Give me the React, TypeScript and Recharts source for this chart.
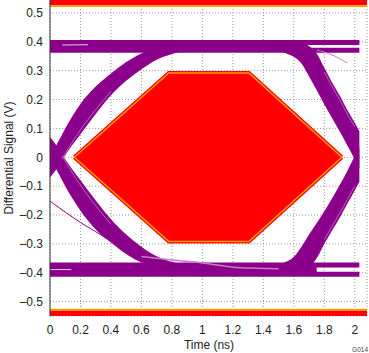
import React from 'react';
import { ComposedChart, Area, Line, XAxis, YAxis, CartesianGrid, ReferenceLine } from 'recharts';

// time grid (ns) for eye traces
const T = [0, 0.05, 0.1, 0.15, 0.2, 0.3, 0.4, 0.5, 0.6, 0.7, 0.8, 0.9, 1.0, 1.1, 1.2, 1.3, 1.4, 1.5, 1.55, 1.6, 1.65, 1.7, 1.75, 1.8, 1.85, 1.9, 1.95, 2.0, 2.03];
// upper eye arc band (V)
const upperOuter = [0.0, 0.05, 0.1, 0.145, 0.185, 0.245, 0.29, 0.33, 0.36, 0.378, 0.39, 0.397, 0.4, 0.401, 0.401, 0.4, 0.4, 0.398, 0.397, 0.396, 0.393, 0.385, 0.36, 0.31, 0.26, 0.215, 0.165, 0.12, 0.09];
const upperInner = [-0.07, -0.035, 0.007, 0.045, 0.08, 0.15, 0.215, 0.265, 0.305, 0.338, 0.358, 0.37, 0.375, 0.377, 0.377, 0.376, 0.374, 0.368, 0.36, 0.348, 0.325, 0.28, 0.232, 0.183, 0.137, 0.09, 0.042, -0.008, -0.04];
// lower eye arc band (V)
const lowerInner = [0.07, 0.035, -0.007, -0.045, -0.08, -0.15, -0.215, -0.268, -0.31, -0.343, -0.363, -0.374, -0.379, -0.381, -0.381, -0.38, -0.378, -0.372, -0.362, -0.345, -0.31, -0.268, -0.228, -0.187, -0.143, -0.097, -0.048, 0.004, 0.036];
const lowerOuter = [0.0, -0.05, -0.1, -0.145, -0.185, -0.25, -0.295, -0.335, -0.365, -0.384, -0.396, -0.403, -0.406, -0.408, -0.408, -0.408, -0.407, -0.405, -0.403, -0.4, -0.395, -0.382, -0.35, -0.3, -0.255, -0.21, -0.162, -0.115, -0.085];

// steady-level rails
const railT = [0, 2.03];
const railFillT = [0, 1.65];
const bottomRailFillT = [0, 1.75];
const topRails = [0.398, 0.371];
const topRailFill = 0.385;
const bottomRails = [-0.373, -0.405];
const bottomRailFill = -0.389;

// stray thin traces
const strayLowT = [0, 0.1, 0.2, 0.3, 0.43, 0.6];
const strayLowV = [-0.152, -0.19, -0.226, -0.258, -0.3, -0.34];
const strayInnerT = [0.6, 0.8, 1.0, 1.25, 1.5];
const strayInnerV = [-0.344, -0.356, -0.366, -0.383, -0.386];
const strayTopT = [1.75, 1.85, 1.95];
const strayTopV = [0.372, 0.355, 0.327];

// light streaks inside the bands
const streakUpLeftT = [0.08, 0.2, 0.3, 0.4];
const streakUpLeftV = [-0.004, 0.095, 0.165, 0.228];
const streakLowLeftT = [0.08, 0.2, 0.3, 0.4];
const streakLowLeftV = [0.004, -0.097, -0.168, -0.232];
const streakUpRightT = [1.8, 1.85, 1.9, 1.95, 2.0];
const streakUpRightV = [0.295, 0.246, 0.2, 0.15, 0.105];
const streakLowRightT = [1.8, 1.85, 1.9, 1.95, 2.0];
const streakLowRightV = [-0.285, -0.24, -0.195, -0.147, -0.1];
const whiteTopT = [0.08, 0.25];
const whiteTopV = [0.389, 0.39];
const whiteBottomT = [0, 0.14];
const whiteBottomV = [-0.389, -0.389];

// eye mask hexagon
const hexT = [0.16, 0.78, 1.305, 1.915];
const hexTop = [0, 0.292, 0.292, 0];
const hexBottom = [0, -0.292, -0.292, 0];

// top / bottom masks
const maskT = [0, 2.08];
const topMask = [0.527, 0.545];
const bottomMask = [-0.55, -0.531];
const topMaskEdge = 0.524;
const bottomMaskEdge = -0.528;

const xTicks = [0, 0.2, 0.4, 0.6, 0.8, 1, 1.2, 1.4, 1.6, 1.8, 2];
const yTicks = [-0.5, -0.4, -0.3, -0.2, -0.1, 0, 0.1, 0.2, 0.3, 0.4, 0.5];

const upperArc = T.map((t, i) => ({ t, r: [upperInner[i], upperOuter[i]] }));
const lowerArc = T.map((t, i) => ({ t, r: [lowerOuter[i], lowerInner[i]] }));
const railData = (v: number, ts: number[]) => ts.map((t) => ({ t, v }));
const lineData = (ts: number[], vs: number[]) => ts.map((t, i) => ({ t, v: vs[i] }));
const hexData = hexT.map((t, i) => ({ t, r: [hexBottom[i], hexTop[i]] }));
const topMaskData = maskT.map((t) => ({ t, r: topMask }));
const bottomMaskData = maskT.map((t) => ({ t, r: bottomMask }));

const PURPLE = '#8b008b';
const LIGHT = '#c77cc7';
const FONT = '"Liberation Sans", Arial, sans-serif';

const fmtY = (v: number) => (v === 0 ? '0' : v < 0 ? '\u2013' + Math.abs(v).toFixed(1) : v.toFixed(1));
const fmtX = (v: number) => String(Number(v.toFixed(1)));

const yTitle = () => (
  <text x={9} y={158} transform="rotate(-90, 9, 158)" textAnchor="middle" dominantBaseline="central" fontSize={12} fill="#222" fontFamily={FONT}>
    Differential Signal (V)
  </text>
);
const xTitle = () => (
  <g>
    <text x={209} y={349} textAnchor="middle" fontSize={12} fill="#222" fontFamily={FONT}>Time (ns)</text>
    <text x={368} y={352} textAnchor="end" fontSize={6.5} fill="#444" fontFamily={FONT}>G014</text>
  </g>
);

const thin = (key: string, ts: number[], vs: number[], color: string, w: number) => (
  <Line key={key} data={lineData(ts, vs)} dataKey="v" type="monotone" stroke={color} strokeWidth={w} dot={false} activeDot={false} isAnimationActive={false} />
);

export default function App() {
  return (
    <div style={{ position: 'absolute', left: 0, top: 0, width: 369, height: 353, background: '#fff', fontFamily: FONT }}>
      <ComposedChart width={369} height={353} margin={{ top: 0, right: 2, bottom: 0, left: 0 }}>
        <CartesianGrid stroke="#999" strokeDasharray="1 2" />
        <XAxis
          dataKey="t"
          type="number"
          domain={[0, 2.08]}
          ticks={xTicks}
          tickFormatter={fmtX}
          allowDataOverflow
          axisLine={false}
          tickLine={false}
          tickSize={6}
          tickMargin={3}
          height={37}
          interval={0}
          tick={{ fontSize: 12, fill: '#222', fontFamily: FONT }}
          label={xTitle}
        />
        <YAxis
          type="number"
          domain={[-0.55, 0.545]}
          ticks={yTicks}
          tickFormatter={fmtY}
          allowDataOverflow
          width={50}
          axisLine={{ stroke: '#333', strokeWidth: 1 }}
          tickLine={false}
          tickSize={5}
          tickMargin={2}
          interval={0}
          tick={{ fontSize: 12, fill: '#222', fontFamily: FONT }}
          label={yTitle}
        />
        <Area data={upperArc} dataKey="r" type="monotone" stroke="none" fill={PURPLE} fillOpacity={1} isAnimationActive={false} />
        <Area data={lowerArc} dataKey="r" type="monotone" stroke="none" fill={PURPLE} fillOpacity={1} isAnimationActive={false} />
        <Area data={topMaskData} dataKey="r" type="linear" stroke="none" fill="#ff0000" fillOpacity={1} isAnimationActive={false} />
        <Area data={bottomMaskData} dataKey="r" type="linear" stroke="none" fill="#ff0000" fillOpacity={1} isAnimationActive={false} />
        <Area data={hexData} dataKey="r" type="linear" stroke="#ff0000" strokeWidth={4} fill="#ff0000" fillOpacity={1} isAnimationActive={false} />
        <Area data={hexData} dataKey="r" type="linear" stroke="#ff9a00" strokeWidth={1.5} fill="#ff0000" fillOpacity={1} isAnimationActive={false} />
        {topRails.map((v, i) => (
          <Line key={'tr' + i} data={railData(v, railT)} dataKey="v" stroke={PURPLE} strokeWidth={5} dot={false} activeDot={false} isAnimationActive={false} />
        ))}
        <Line data={railData(topRailFill, railFillT)} dataKey="v" stroke={PURPLE} strokeWidth={5} dot={false} activeDot={false} isAnimationActive={false} />
        {bottomRails.map((v, i) => (
          <Line key={'br' + i} data={railData(v, railT)} dataKey="v" stroke={PURPLE} strokeWidth={5} dot={false} activeDot={false} isAnimationActive={false} />
        ))}
        <Line data={railData(bottomRailFill, bottomRailFillT)} dataKey="v" stroke={PURPLE} strokeWidth={5} dot={false} activeDot={false} isAnimationActive={false} />
        {thin('s1', strayLowT, strayLowV, PURPLE, 1)}
        {thin('s2', strayInnerT, strayInnerV, LIGHT, 1.5)}
        {thin('s3', strayTopT, strayTopV, LIGHT, 1)}
        {thin('k1', streakUpLeftT, streakUpLeftV, LIGHT, 0.8)}
        {thin('k2', streakLowLeftT, streakLowLeftV, LIGHT, 0.8)}
        {thin('k3', streakUpRightT, streakUpRightV, LIGHT, 0.8)}
        {thin('k4', streakLowRightT, streakLowRightV, LIGHT, 0.8)}
        {thin('w1', whiteTopT, whiteTopV, '#ffffff', 0.8)}
        {thin('w2', whiteBottomT, whiteBottomV, '#ffffff', 0.8)}
        <ReferenceLine y={topMaskEdge} stroke="#ff9a00" strokeWidth={1.8} ifOverflow="visible" />
        <ReferenceLine y={bottomMaskEdge} stroke="#ff9a00" strokeWidth={1.8} ifOverflow="visible" />
      </ComposedChart>
    </div>
  );
}
